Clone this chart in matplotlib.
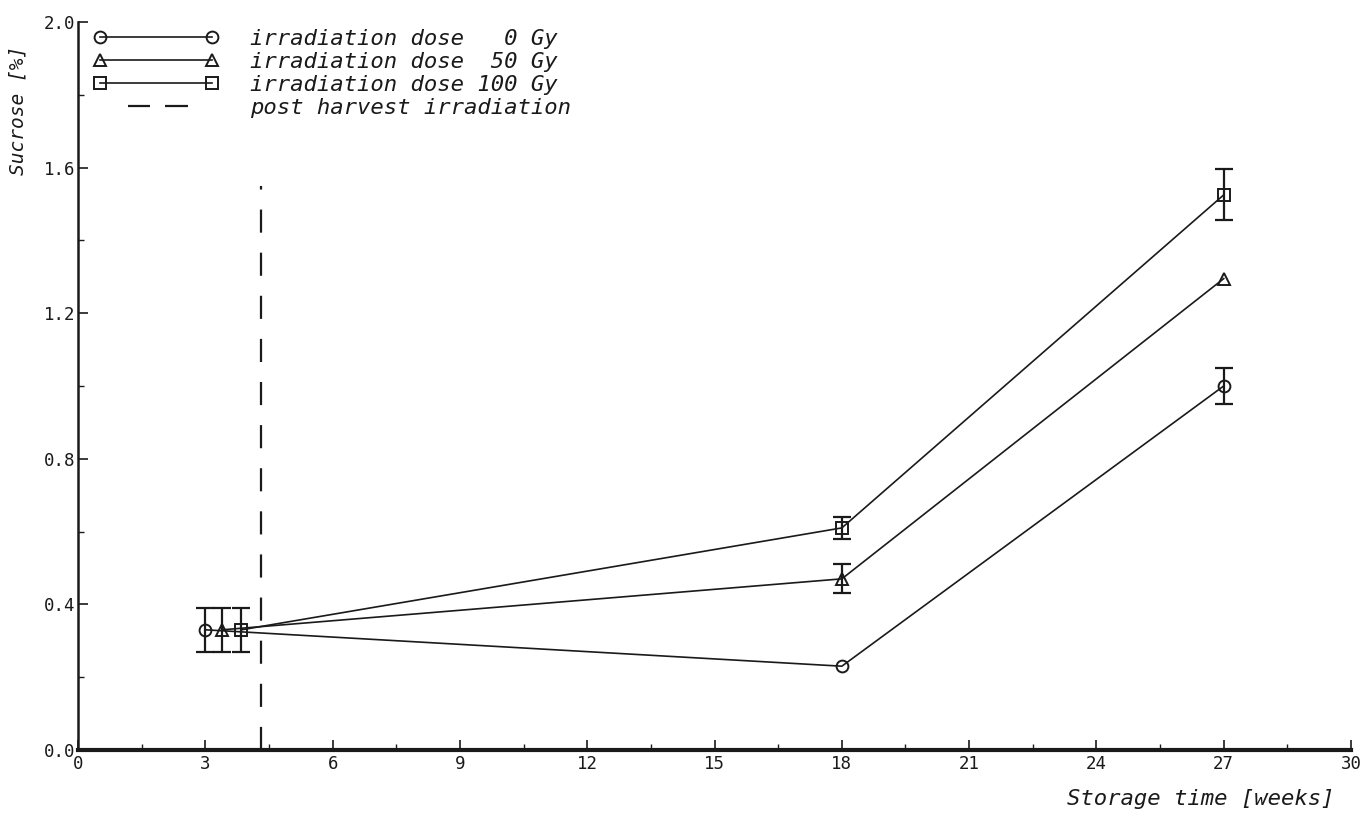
import matplotlib.pyplot as plt
from matplotlib.lines import Line2D
from matplotlib.ticker import MultipleLocator

# storage time (weeks), points offset a little so error bars do not overlap
weeks_0 = [3.0, 18.0, 27.0]
weeks_50 = [3.4, 18.0, 27.0]
weeks_100 = [3.85, 18.0, 27.0]

sucrose_0 = [0.33, 0.23, 1.00]
sucrose_50 = [0.33, 0.47, 1.295]
sucrose_100 = [0.33, 0.61, 1.525]

# 0 means no error bar drawn
err_0 = [0.06, 0.0, 0.05]
err_50 = [0.06, 0.04, 0.0]
err_100 = [0.06, 0.03, 0.07]

irradiation_week = 4.3

legend_labels = ['irradiation dose   0 Gy', 'irradiation dose  50 Gy',
                 'irradiation dose 100 Gy', 'post harvest irradiation']

mono = 'DejaVu Sans Mono'
ink = '#1a1a1a'

fig = plt.figure(figsize=(13.6, 8.16), dpi=100)
ax = fig.add_axes([0.0574, 0.081, 0.936, 0.892])

series = [(weeks_0, sucrose_0, err_0, 'o'),
          (weeks_50, sucrose_50, err_50, '^'),
          (weeks_100, sucrose_100, err_100, 's')]
for x, y, e, m in series:
    ax.plot(x, y, '-' + m, color=ink, lw=1.2, ms=8.5, mfc='none', mew=1.4)
    keep = [i for i in range(len(x)) if e[i] > 0]
    ax.errorbar([x[i] for i in keep], [y[i] for i in keep], yerr=[e[i] for i in keep],
                fmt='none', ecolor=ink, elinewidth=1.6, capsize=6.5, capthick=1.6)

# dash 23 px, gap 20 px (lw 1.6)
ax.axvline(irradiation_week, ymin=0, ymax=0.775, color=ink, lw=1.6,
           linestyle=(0, (10.4, 9.0)))

ax.set_xlim(0, 30)
ax.set_ylim(0, 2.0)
ax.xaxis.set_major_locator(MultipleLocator(3))
ax.xaxis.set_minor_locator(MultipleLocator(1.5))
ax.yaxis.set_major_locator(MultipleLocator(0.4))
ax.yaxis.set_minor_locator(MultipleLocator(0.2))
ax.tick_params(which='both', direction='in', color=ink)
ax.tick_params(which='major', length=7, width=1.2, labelsize=12.5)
ax.tick_params(which='minor', length=4, width=1.0)
ax.tick_params(axis='y', pad=2)
ax.set_xticks(ax.get_xticks())
ax.set_xticklabels([f'{t:g}' for t in ax.get_xticks()], family=mono, color=ink)
ax.set_yticks(ax.get_yticks())
ax.set_yticklabels([f'{t:.1f}' for t in ax.get_yticks()], family=mono, color=ink)
ax.set_xlim(0, 30)
ax.set_ylim(0, 2.0)

for s in ['top', 'right']:
    ax.spines[s].set_visible(False)
ax.spines['left'].set_linewidth(1.8)
ax.spines['bottom'].set_linewidth(3.0)
ax.spines['left'].set_color(ink)
ax.spines['bottom'].set_color(ink)

fig.text(0.981, 0.008, 'Storage time [weeks]', ha='right', va='bottom',
         family=mono, style='italic', fontsize=16, color=ink)
fig.text(0.013, 0.865, 'Sucrose [%]', ha='center', va='center', rotation=90,
         family=mono, style='italic', fontsize=14, color=ink)

handles = [Line2D([], [], color=ink, lw=1.2, marker=m, ms=8.5, mfc='none', mew=1.4)
           for m in ['o', '^', 's']]
handles.append(Line2D([], [], color=ink, lw=1.6,
                      linestyle=(0, (0, 12.6, 9.9, 6.75, 10.35, 18))))
leg = ax.legend(handles, legend_labels, loc='upper left', bbox_to_anchor=(0.0118, 0.991),
                borderaxespad=0, borderpad=0, numpoints=2, handlelength=5.67,
                handletextpad=1.4, labelspacing=0.14, frameon=False,
                prop={'family': mono, 'style': 'italic', 'size': 16})
for t in leg.get_texts():
    t.set_color(ink)

fig.savefig('out.png', dpi=100)
